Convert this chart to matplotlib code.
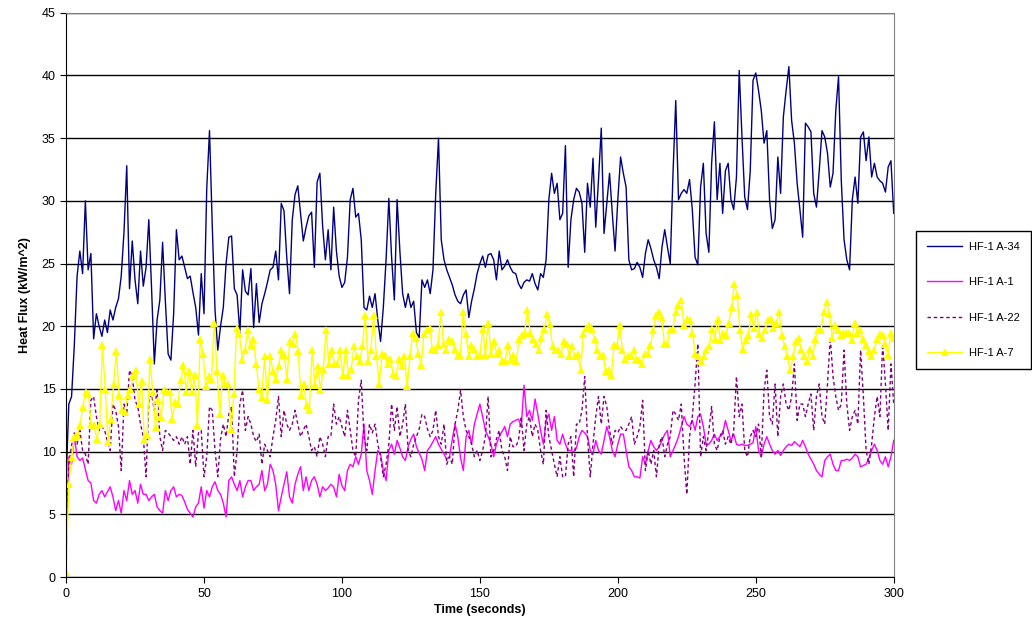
import numpy as np
import matplotlib
matplotlib.use('Agg')
import matplotlib.pyplot as plt

plt.rcParams['font.family'] = ['Liberation Sans', 'DejaVu Sans']

# heat flux readings, 1 s steps (A-7 has its own sample count)
a34 = [7.5, 13.8, 14.4, 18.5, 24, 26, 24.2, 30, 24.5, 25.8,
       19, 21, 20, 19.2, 20.5, 19.5, 21.3, 20.5, 21.5, 22.2,
       24, 27.5, 32.8, 23, 26.8, 23.7, 21.8, 26, 23.2, 24.7,
       28.5, 23, 17, 20.5, 22.1, 26.7, 22, 17.8, 17.3, 21,
       27.7, 25.3, 25.6, 24.7, 23.8, 24, 22.7, 21.5, 19.3, 24.2,
       21, 31, 35.6, 28, 21.3, 18.1, 20, 21.5, 25, 27.1,
       27.2, 23, 22.5, 19.5, 24.5, 22.8, 22.5, 24.6, 19.9, 23.4,
       20.3, 21.8, 22.6, 23.5, 24.5, 24.7, 26, 23.7, 29.8, 29.2,
       25.5, 22.6, 28.5, 30.5, 31.2, 29, 26.8, 27.9, 28.8, 29.1,
       24.7, 31.5, 32.2, 28, 25.3, 27.7, 24.5, 29.5, 26, 24,
       23.1, 23.5, 25.5, 30.1, 31, 28.7, 29, 26.9, 21.5, 21.3,
       22.4, 21.5, 22.6, 20.5, 18.8, 21.5, 25.3, 30.2, 25.5, 22.1,
       30.1, 26, 22.6, 21.5, 22.6, 21.5, 22, 19.5, 19.1, 23.7,
       23.1, 23.7, 22.6, 24.5, 30.6, 35, 26.9, 25.3, 24.5, 23.9,
       23.3, 22.5, 22, 21.8, 22.5, 22.9, 20.7, 22, 23, 24.2,
       25, 25.6, 24.7, 25.7, 25.8, 25.3, 23.7, 26, 24.5, 24.8,
       25.3, 24.7, 24.3, 24.2, 23.4, 23, 23.5, 23.7, 23.6, 24.2,
       23.4, 22.9, 24.2, 23.9, 25.3, 30.1, 32.2, 30.6, 31.4, 28.5,
       29, 34.4, 24.7, 28.5, 30.1, 31, 30.7, 29.8, 25.9, 31.4,
       29.5, 33.4, 27.9, 31.7, 35.8, 27.4, 29.8, 32.2, 29, 26,
       30.1, 33.5, 32.2, 31.1, 25.3, 24.5, 24.6, 25.1, 24.7, 23.9,
       25.8, 26.9, 26.2, 25.3, 24.7, 23.8, 26.3, 27.7, 26.3, 25,
       32.2, 38, 30.1, 30.6, 30.9, 30.6, 31.7, 29.3, 25.5, 24.9,
       31.1, 33, 27.4, 25.9, 33, 36.3, 30.1, 33, 29, 32.4,
       33, 30.1, 29.3, 31.9, 40.4, 35.1, 30.3, 29.3, 32.4, 39.6,
       40.2, 38.8, 37.2, 34.6, 35.6, 30.1, 27.8, 28.5, 33.5, 30.6,
       36.7, 38.8, 40.7, 36.4, 34.6, 31.4, 29.3, 27.1, 36.2, 35.9,
       35.5, 30.6, 29.5, 32.4, 35.6, 35.1, 33.8, 31.1, 32.2, 37.2,
       39.9, 31.6, 26.9, 25.3, 24.5, 30.1, 31.9, 29.8, 35.1, 35.5,
       33.2, 35.1, 31.9, 33, 31.9, 31.6, 31.4, 30.7, 32.7, 33.2,
       29]

a1 = [1.6, 9.6, 9, 11.2, 9.6, 9.3, 9.5, 8.6, 7.7, 7.5,
      6.1, 5.9, 6.6, 6.9, 6.4, 6.8, 7.2, 6.4, 5.3, 6.1,
      5.1, 6.9, 6.1, 7.7, 6.6, 6.9, 5.9, 7.4, 6.6, 6.6,
      6.1, 6.4, 6.6, 5.6, 5.3, 5.1, 6.9, 6.1, 6.9, 7.2,
      6.4, 6.6, 6.5, 6, 5.4, 5.1, 4.8, 5.6, 5.9, 7.2,
      5.5, 6.9, 6.4, 7.2, 7.6, 6.9, 6.6, 5.9, 4.8, 7.7,
      8, 7.4, 6.9, 7.7, 6.4, 7.2, 7.7, 7.7, 6.9, 7.2,
      7.4, 8.5, 6.9, 7.4, 9, 8.5, 7.4, 5.3, 6.4, 7.4,
      8.4, 6.4, 5.9, 7.4, 8.2, 8.8, 6.9, 8, 6.9, 7.7,
      8, 7.4, 6.4, 7.2, 6.9, 7.1, 7.4, 7.2, 6.4, 8.2,
      7.3, 6.9, 8.5, 9, 8.8, 9.6, 9, 9.8, 12.2, 8.5,
      7.7, 6.6, 8.5, 10.1, 9.8, 8.5, 7.7, 10.1, 10.6, 9.8,
      10.9, 10.3, 9.6, 9.3, 10.4, 11, 11.4, 10.4, 9.9, 9.4,
      8.5, 10.1, 10.4, 10.8, 11.2, 10.6, 10.2, 9.8, 9.4, 9.6,
      11, 12.2, 11.2, 9.5, 8.5, 11.2, 11.7, 10.6, 12.2, 13,
      13.8, 12.8, 11.7, 11.2, 10.6, 9.6, 10.6, 11.2, 11.6, 12,
      11.2, 12.2, 12.4, 12.5, 12.6, 12, 15.3, 12.8, 13.3, 12.5,
      14.2, 13, 11.7, 10.6, 12.5, 13, 11.7, 12.8, 10.9, 10.6,
      11.4, 10.6, 10.1, 10.1, 10, 10.3, 11.2, 11.7, 11.5, 11.2,
      10.1, 9.8, 10.9, 10.1, 9.8, 10.9, 12, 11.2, 10.1, 9.6,
      10.6, 11.4, 11.4, 10.1, 8.8, 8.5, 8, 8, 7.9, 9.6,
      9, 10.1, 10.9, 10.4, 10.1, 10.4, 10.9, 11.4, 11.7, 9.6,
      10.1, 10.6, 11.2, 12, 12.8, 12.2, 12, 12.5, 11.7, 12.8,
      13, 12, 10.6, 10.6, 10.9, 11.4, 10.9, 11.2, 11.4, 12.5,
      11.7, 10.9, 11.4, 10.6, 10.5, 10.6, 10.5, 10.5, 10.6, 10.7,
      12, 10.1, 9.6, 10.6, 11.2, 10.6, 10.1, 9.8, 10.1, 9.7,
      10.1, 10.4, 10.6, 10.5, 10.8, 10.6, 10.4, 10.9, 10.4, 9.8,
      9.4, 9, 8.5, 8.2, 8, 9.3, 9.6, 9.8, 9, 8.5,
      8.5, 9.3, 9.3, 9.4, 9.3, 9.5, 9.8, 9.6, 8.8, 8.9,
      9, 9.5, 10.1, 10.6, 10.1, 9.3, 9, 9.6, 8.8, 9.6,
      10.9]

a22 = [2, 9, 10.5, 11.5, 10.6, 11.7, 10.1, 9.8, 9, 14.1,
       14.4, 12.8, 11.7, 12, 11.7, 10.8, 10.1, 13.8, 13.3, 12,
       8.5, 13.8, 13, 16.5, 16, 14.1, 13.6, 12.2, 11.2, 8,
       14.1, 14.6, 13.3, 14.9, 11.2, 10.1, 11.7, 11.5, 11.2, 10.9,
       11.2, 10.6, 11.2, 10.6, 11.2, 9, 11.7, 8.8, 11.5, 11.7,
       8, 9.6, 13.6, 13.3, 10.1, 8, 11, 12.2, 11.2, 13,
       13.6, 8, 10.1, 13.8, 14.9, 11.7, 12.8, 12.2, 11.2, 10.8,
       11.4, 9, 10.6, 10.1, 9.6, 11.2, 12.5, 14.4, 11.2, 13.3,
       12.2, 11.7, 12.2, 13.3, 12.2, 11.2, 11.7, 12.2, 11.2, 10.1,
       10.4, 9.6, 11.2, 10.6, 9.6, 11.2, 11.2, 13.8, 12.2, 12.8,
       12, 11.2, 13.3, 11.7, 10.1, 9.6, 14.1, 15.7, 11.2, 10.1,
       12.2, 11.5, 12.2, 10.6, 9.6, 8, 9, 10.6, 13.8, 11.7,
       13.6, 11.2, 12.2, 13.8, 10.1, 9.6, 10.6, 11.2, 11.8, 13,
       12.8, 11.8, 11.2, 11.7, 13.3, 11.2, 10.6, 12.2, 9, 9.6,
       9, 12.2, 13.3, 14.9, 12.8, 11.7, 11.2, 10.6, 9.6, 10.1,
       9.3, 10.1, 11.2, 14.4, 9.6, 10.1, 11, 11.7, 10.1, 9.6,
       8.5, 11.2, 10.4, 10.4, 10.9, 12.8, 10.1, 12.2, 12.8, 11.2,
       12.2, 11.7, 10.1, 9, 13.3, 11.2, 10.1, 9, 8, 9.6,
       8, 8, 10.6, 11.2, 8, 12.2, 12.2, 13.3, 16, 11.2,
       8, 10.6, 12.8, 14.4, 12.2, 14.4, 13.6, 11.7, 10.6, 11.7,
       11.5, 12, 11.7, 11.7, 12.2, 12.8, 10.6, 11.2, 12, 14.1,
       8.5, 10.1, 9, 10.1, 8, 10.6, 11.2, 9.6, 10.6, 11.2,
       13.3, 13, 12.5, 13.8, 9.6, 6.6, 11.2, 12.8, 15.4, 18.6,
       9.6, 11.2, 10.1, 11.7, 13.6, 10.6, 10.1, 11.2, 11.7, 10.6,
       11.2, 10.6, 11.7, 16, 12.8, 13.8, 10.1, 9.6, 11.2, 11.7,
       11.2, 12.2, 9.6, 14.9, 16.5, 12.8, 12.2, 15.4, 11.2, 14.4,
       15.4, 13.8, 13.3, 14.4, 17, 12.5, 13.8, 13.8, 12.8, 13.8,
       14.6, 11.7, 14.4, 15.4, 12.8, 12.2, 15.4, 19.1, 16, 14.4,
       13.3, 13.8, 18.1, 13.8, 11.7, 12.8, 13.3, 12.2, 18.1, 14.4,
       10.1, 9, 10.6, 12.8, 14.4, 12.8, 18.6, 15.4, 11.7, 17,
       13.8]

a7 = [0.4, 7.4, 9.6, 11.2, 11.3, 12.1, 13.6, 14.8, 14.6, 12.2,
      12.1, 11, 12.2, 18.5, 15, 10.8, 12.6, 15.4, 18, 14.5,
      13.3, 13.2, 14.5, 15, 16.1, 16.5, 13.8, 15.6, 10.9, 11.3,
      17.4, 14.8, 12, 14.1, 12.8, 14.9, 14.8, 14.8, 12.6, 14,
      13.8, 15.7, 16.9, 14.8, 16.4, 14.8, 16.1, 12.1, 19, 17.8,
      15.2, 16, 15.8, 20.3, 16.4, 13, 16.1, 15.4, 15.4, 11.8,
      14.6, 19.9, 19.4, 17.3, 18.1, 19.7, 18.5, 19, 17, 15,
      14.4, 17.6, 14.1, 17.6, 16.4, 15.8, 16.8, 18.1, 17.7, 15.8,
      18.8, 18.6, 19.4, 18, 14.5, 15.4, 13.7, 13.3, 18.1, 15.3,
      16.8, 14.9, 16.6, 19.7, 17, 18.1, 17, 17, 18.1, 16.1,
      18.1, 16.1, 16.6, 18.4, 17.6, 17.2, 18.4, 20.9, 17.2, 18.1,
      20.9, 17.6, 15.4, 17.8, 17.7, 17, 17.4, 16.2, 16, 17.4,
      16.8, 17.6, 15.2, 17.6, 19.5, 19.1, 17.8, 16.9, 19.4, 19.7,
      19.9, 18.2, 18.1, 18.5, 21.1, 18.6, 18.1, 19, 18.8, 18.2,
      17.6, 17.7, 21.1, 19.4, 17.6, 18.5, 18.2, 17.6, 17.7, 19.8,
      17.7, 20.3, 17.8, 18.8, 17.8, 18.1, 17.2, 17.2, 18.5, 17.4,
      17.7, 17.2, 19, 19.3, 19.5, 21.3, 19.5, 19, 18.6, 18.1,
      19.1, 19.8, 21, 20.2, 18.4, 18.1, 18.1, 17.8, 18.8, 18.6,
      17.6, 18.4, 17.6, 17.8, 16.5, 19.4, 19.9, 20.1, 19.8, 19,
      18.1, 17.6, 17.7, 16.4, 16.5, 16.1, 18.5, 18.4, 20.1, 18.1,
      17.4, 17.6, 17.6, 18.1, 17.4, 17.3, 17, 17.8, 17.8, 18.5,
      19.7, 20.9, 21.1, 20.7, 18.6, 18.6, 19.7, 19.8, 21.1, 21.7,
      22.1, 20.1, 20.6, 20.5, 19.5, 17.8, 17.6, 17.2, 17.6, 18.1,
      18.4, 19.8, 19, 20.6, 18.9, 19.5, 19.3, 20.3, 21.5, 23.4,
      22.5, 19.7, 18.2, 18.9, 19.3, 21, 19.9, 21.1, 19.4, 19.1,
      19.7, 20.5, 20.6, 19.9, 20.3, 21.1, 19.3, 18.4, 17.6, 16.5,
      17.6, 18.8, 19.1, 18.1, 17.6, 17.2, 18.2, 17.6, 19, 19.7,
      19.7, 21.1, 21.9, 21, 19.1, 20.1, 19.7, 19.3, 19.5, 19.5,
      19.5, 18.9, 20.3, 19.5, 19.7, 19, 18.5, 18, 17.6, 18.1,
      19, 19.4, 19.3, 18.6, 17.7, 19.5, 19.1]

t = np.arange(len(a34))
t7 = np.linspace(0, 300, len(a7))  # A-7 logged on a slightly slower clock

labels = ['HF-1 A-34', 'HF-1 A-1', 'HF-1 A-22', 'HF-1 A-7']

fig = plt.figure(figsize=(10.32, 6.37), dpi=100)
ax = fig.add_axes([0.064, 0.094, 0.802, 0.886])

ax.plot(t, a34, color='#000080', lw=1.0, label=labels[0])
ax.plot(t, a1, color='#ff00ff', lw=1.0, label=labels[1])
ax.plot(t, a22, color='#800080', lw=1.0, ls=(0, (2.5, 2)), label=labels[2])
ax.plot(t7, a7, color='#ffff00', lw=1.0, marker='^', ms=6,
        markeredgewidth=0, label=labels[3])

ax.set_xlim(0, 300)
ax.set_ylim(0, 45)
ax.set_xticks(np.arange(0, 301, 50))
ax.set_yticks(np.arange(0, 46, 5))
ax.yaxis.grid(True, color='black', lw=1)
ax.set_axisbelow(True)
ax.tick_params(direction='out', length=4, labelsize=9, colors='black')
for side in ['left', 'bottom']:
    ax.spines[side].set_color('black')
for side in ['top', 'right']:
    ax.spines[side].set_color('#808080')

ax.set_xlabel('Time (seconds)', fontsize=9, fontweight='bold', labelpad=3)
ax.set_ylabel('Heat Flux (kW/m^2)', fontsize=9, fontweight='bold', labelpad=8)

fig.legend(loc='center left', bbox_to_anchor=(0.882, 0.529), fontsize=8,
           frameon=True, fancybox=False, edgecolor='black', framealpha=1,
           labelspacing=2.3, handlelength=3.2, borderpad=1.0,
           handletextpad=0.6)

fig.savefig('out.png', dpi=100)
